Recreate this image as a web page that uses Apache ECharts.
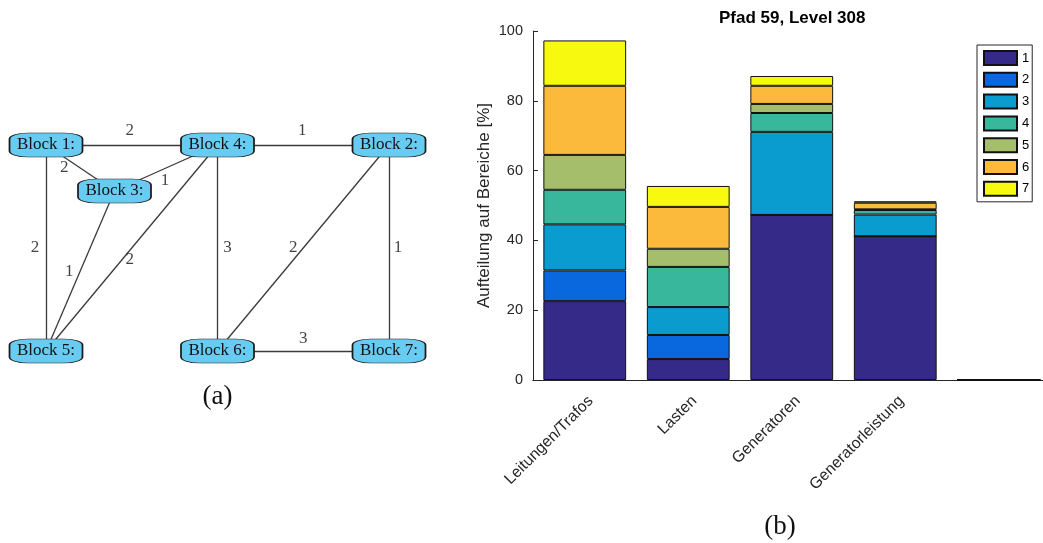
<!DOCTYPE html>
<html>
<head>
<meta charset="utf-8">
<script src="https://cdn.jsdelivr.net/npm/echarts@6/dist/echarts.min.js"></script>
<style>
html,body{margin:0;padding:0;background:#fff;overflow:hidden;}
#chart{width:1043px;height:543px;}
</style>
</head>
<body>
<div id="chart"></div>
<script>
// ---------- data: stacked bar chart (b) ----------
const categories = ['Leitungen/Trafos', 'Lasten', 'Generatoren', 'Generatorleistung', ''];
const seriesNames = ['1', '2', '3', '4', '5', '6', '7'];
const area1 = [22.6, 6.0, 47.3, 41.2, 0];
const area2 = [8.8, 6.9, 0, 0, 0];
const area3 = [13.2, 8.0, 23.8, 6.2, 0];
const area4 = [9.9, 11.5, 5.4, 1.3, 0];
const area5 = [10.0, 5.2, 2.6, 0.2, 0];
const area6 = [19.8, 12.0, 5.2, 1.9, 0];
const area7 = [13.0, 6.0, 2.8, 0.4, 0];
const yTicks = [0, 20, 40, 60, 80, 100];
const chartTitle = 'Pfad 59, Level 308';
const yAxisTitle = 'Aufteilung auf Bereiche [%]';

// ---------- data: block graph (a) ----------
const blockNames = ['Block 1:', 'Block 2:', 'Block 3:', 'Block 4:', 'Block 5:', 'Block 6:', 'Block 7:'];
const connections = [
  ['Block 1:', 'Block 4:', 2],
  ['Block 4:', 'Block 2:', 1],
  ['Block 1:', 'Block 3:', 2],
  ['Block 3:', 'Block 4:', 1],
  ['Block 1:', 'Block 5:', 2],
  ['Block 3:', 'Block 5:', 1],
  ['Block 4:', 'Block 5:', 2],
  ['Block 4:', 'Block 6:', 3],
  ['Block 2:', 'Block 6:', 2],
  ['Block 2:', 'Block 7:', 1],
  ['Block 6:', 'Block 7:', 3]
];

// ---------- layout (positions / styles) ----------
const blockLayout = {
  'Block 1:': [46, 145], 'Block 4:': [217.5, 145], 'Block 2:': [389, 145],
  'Block 3:': [114.5, 191],
  'Block 5:': [46, 351], 'Block 6:': [217.5, 351], 'Block 7:': [389, 351]
};
const weightLabelOffset = [
  [-2, -14], [-1, -14], [-16, 0], [-1, 13], [-11, 0], [-11, 1],
  [-2, 12], [10, 0], [-10, 0], [9, 0], [0, -12]
];
const colors = ['#352A87', '#0A68DF', '#0A9BCF', '#38B79C', '#A5BE6B', '#FCBA3D', '#F7F90F'];
const axisColor = '#262626';
const serif = 'Liberation Serif';

const areaValues = [area1, area2, area3, area4, area5, area6, area7];

const chart = echarts.init(document.getElementById('chart'), null, {renderer: 'canvas'});

const barSeries = seriesNames.map((n, i) => ({
  type: 'bar',
  name: n,
  stack: 'total',
  xAxisIndex: 0,
  yAxisIndex: 0,
  barCategoryGap: '20%',
  data: areaValues[i],
  itemStyle: {color: colors[i], borderColor: '#111', borderWidth: 1},
  emphasis: {disabled: true}
}));

const graphSeries = {
  type: 'graph',
  name: 'blocks',
  coordinateSystem: 'cartesian2d',
  xAxisIndex: 2,
  yAxisIndex: 2,
  symbol: 'roundRect',
  symbolSize: [73, 24],
  z: 5,
  data: blockNames.map(n => ({name: n, value: blockLayout[n]})),
  links: connections.map(c => ({source: c[0], target: c[1], value: c[2]})),
  itemStyle: {color: '#68CCF2', borderColor: '#1a1a1a', borderWidth: 1},
  label: {show: true, position: 'inside', formatter: '{b}', fontFamily: serif, fontSize: 17, color: '#111'},
  lineStyle: {color: '#3a3a3a', width: 1.3, opacity: 1, curveness: 0},
  emphasis: {disabled: true}
};

const weightSeries = {
  type: 'scatter',
  name: 'weights',
  xAxisIndex: 2,
  yAxisIndex: 2,
  symbolSize: 1,
  itemStyle: {color: 'rgba(0,0,0,0)'},
  z: 6,
  data: connections.map((c, i) => {
    const a = blockLayout[c[0]], b = blockLayout[c[1]];
    return [(a[0] + b[0]) / 2 + weightLabelOffset[i][0], (a[1] + b[1]) / 2 + weightLabelOffset[i][1], c[2]];
  }),
  label: {show: true, position: 'inside', formatter: p => String(p.value[2]), fontFamily: serif, fontSize: 17, color: '#111'},
  emphasis: {disabled: true}
};

const option = {
  animation: false,
  backgroundColor: '#fff',
  textStyle: {fontFamily: 'Liberation Sans'},
  title: {
    text: chartTitle, left: 714, top: 5,
    textStyle: {fontSize: 17, fontWeight: 'bold', color: '#000', fontFamily: 'Liberation Sans'}
  },
  legend: {
    data: seriesNames, orient: 'vertical', left: 977, top: 45,
    itemWidth: 33, itemHeight: 14, itemGap: 5.8, padding: [5, 3, 5, 6],
    borderColor: axisColor, borderWidth: 1, backgroundColor: '#fff',
    icon: 'rect', selectedMode: false,
    textStyle: {fontSize: 13, color: '#000', fontFamily: 'Liberation Sans'}
  },
  grid: [
    {left: 533, top: 31, width: 517.5, height: 349, containLabel: false, outerBoundsMode: 'none'},
    {left: 0, top: 0, width: 460, height: 543, containLabel: false, outerBoundsMode: 'none'}
  ],
  xAxis: [
    {
      type: 'category', gridIndex: 0, data: categories,
      axisLine: {lineStyle: {color: axisColor, width: 1}},
      axisTick: {inside: true, alignWithLabel: true, length: 5, lineStyle: {color: axisColor}},
      axisLabel: {
        rotate: 45, interval: 0, fontSize: 15.8, color: axisColor, margin: 12.5,
        verticalAlign: 'top', lineHeight: 16, padding: [0.5, 0, 0, 0], fontFamily: 'Liberation Sans'
      }
    },
    {
      type: 'category', gridIndex: 0, data: categories, position: 'top',
      axisLine: {lineStyle: {color: axisColor, width: 1}},
      axisTick: {inside: true, alignWithLabel: true, length: 5, lineStyle: {color: axisColor}},
      axisLabel: {show: false}
    },
    {type: 'value', gridIndex: 1, min: 0, max: 460, show: false}
  ],
  yAxis: [
    {
      type: 'value', gridIndex: 0, min: yTicks[0], max: yTicks[yTicks.length - 1], interval: 20,
      axisLine: {show: true, lineStyle: {color: axisColor, width: 1}},
      axisTick: {show: true, inside: true, length: 5, lineStyle: {color: axisColor}},
      splitLine: {show: false},
      axisLabel: {fontSize: 14.5, color: axisColor, margin: 10, fontFamily: 'Liberation Sans'},
      name: yAxisTitle, nameLocation: 'middle', nameGap: 40, nameRotate: 90,
      nameTextStyle: {fontSize: 17, color: axisColor, fontFamily: 'Liberation Sans'}
    },
    {
      type: 'value', gridIndex: 0, position: 'right', min: 0, max: 100, interval: 20,
      axisLine: {show: true, lineStyle: {color: axisColor, width: 1}},
      axisTick: {show: true, inside: true, length: 5, lineStyle: {color: axisColor}},
      splitLine: {show: false}, axisLabel: {show: false}
    },
    {type: 'value', gridIndex: 1, min: 0, max: 543, inverse: true, show: false}
  ],
  graphic: [
    {type: 'text', x: 217.5, y: 397, style: {text: '(a)', font: '27px "Liberation Serif"', fill: '#111', align: 'center', verticalAlign: 'middle'}},
    {type: 'text', x: 780, y: 527, style: {text: '(b)', font: '27px "Liberation Serif"', fill: '#111', align: 'center', verticalAlign: 'middle'}}
  ],
  series: barSeries.concat([graphSeries, weightSeries])
};

chart.setOption(option);
</script>
</body>
</html>
